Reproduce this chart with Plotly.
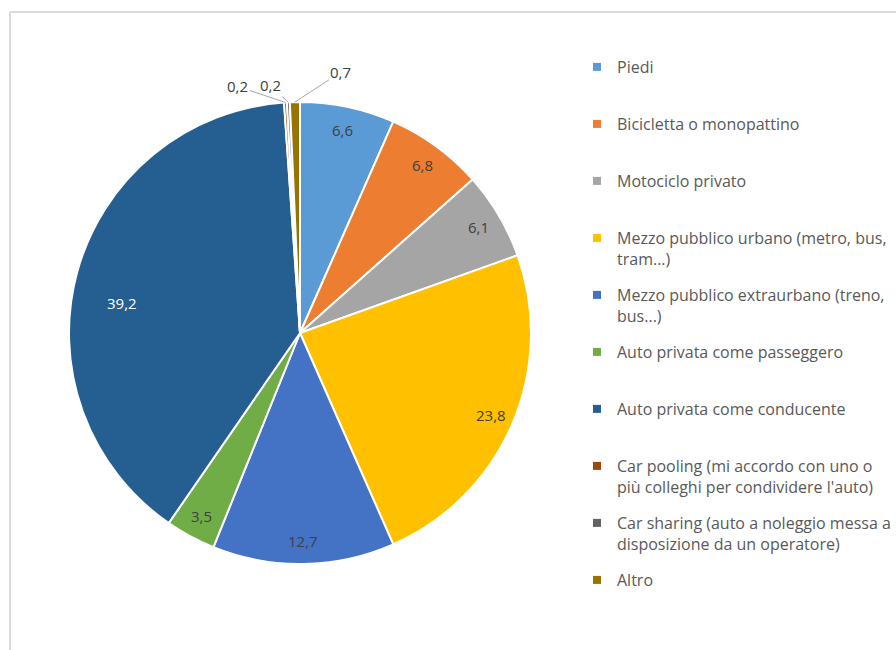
import math
import plotly.graph_objects as go

# Modal split (%)
categories = [
    "Piedi",
    "Bicicletta o monopattino",
    "Motociclo privato",
    "Mezzo pubblico urbano (metro, bus,<br>tram...)",
    "Mezzo pubblico extraurbano (treno,<br>bus...)",
    "Auto privata come passeggero",
    "Auto privata come conducente",
    "Car pooling (mi accordo con uno o<br>più colleghi per condividere l'auto)",
    "Car sharing (auto a noleggio messa a<br>disposizione da un operatore)",
    "Altro",
]
shares = [6.6, 6.8, 6.1, 23.8, 12.7, 3.5, 39.2, 0.2, 0.2, 0.7]
colors = ["#5B9BD5", "#ED7D31", "#A5A5A5", "#FFC000", "#4472C4",
          "#70AD47", "#255E91", "#9E480E", "#636363", "#997300"]

W, H = 896, 650
PIE_X = (69, 531)     # pie domain, px from left
PIE_Y = (102, 564)    # pie domain, px from top
LABEL_R = 0.9         # radial position of the data labels (fraction of radius)
label_override = {6: (0.78, -5.7)}   # slice index -> (radius fraction, angle shift deg)

# label offsets (px) for the tiny slices, labelled outside with a leader line
small_offsets = {7: (-48, -16), 8: (-18, -17), 9: (46, -30)}

text = [f"{v:.1f}".replace(".", ",") for v in shares]
text_colors = ["#FFFFFF" if c == "#255E91" else "#404040" for c in colors]

fig = go.Figure(go.Pie(
    labels=categories,
    values=shares,
    textinfo="none",
    sort=False,
    direction="clockwise",
    rotation=0,
    showlegend=False,
    marker=dict(colors=colors, line=dict(color="#FFFFFF", width=2)),
    domain=dict(x=[PIE_X[0] / W, PIE_X[1] / W],
                y=[1 - PIE_Y[1] / H, 1 - PIE_Y[0] / H]),
    hoverinfo="label+percent",
))

# legend entries, padded to two lines each so they sit evenly spaced
for i, (c, col) in enumerate(zip(categories, colors)):
    name = c if "<br>" in c else c + "<br>&nbsp;"
    fig.add_trace(go.Scatter(
        x=[None], y=[None], mode="markers", name=name,
        legendgroup=f"g{i}",
        marker=dict(symbol="square", size=8, color=col),
        hoverinfo="skip",
    ))

# data labels, anchored at each slice's mid-angle
cx = (PIE_X[0] + PIE_X[1]) / 2
cy = (PIE_Y[0] + PIE_Y[1]) / 2
r = (PIE_X[1] - PIE_X[0]) / 2
total = sum(shares)
annotations = []
cum = 0.0
for i, v in enumerate(shares):
    deg = 360 * (cum + v / 2) / total
    cum += v
    if i in small_offsets:
        theta = math.radians(deg)
        px = cx + r * math.sin(theta)
        py = cy - r * math.cos(theta)
        ax, ay = small_offsets[i]
        annotations.append(dict(
            x=px / W, y=1 - py / H, xref="paper", yref="paper",
            text=text[i], showarrow=True, arrowhead=0, arrowwidth=1,
            arrowcolor="#A6A6A6", ax=ax, ay=ay, standoff=0,
            font=dict(size=15, color="#404040", family="Open Sans"),
        ))
    else:
        frac, shift = label_override.get(i, (LABEL_R, 0))
        theta = math.radians(deg + shift)
        px = cx + r * frac * math.sin(theta)
        py = cy - r * frac * math.cos(theta)
        annotations.append(dict(
            x=px / W, y=1 - py / H, xref="paper", yref="paper",
            xanchor="center", yanchor="middle",
            text=text[i], showarrow=False,
            font=dict(size=15, color=text_colors[i], family="Open Sans"),
        ))

fig.update_layout(
    width=W, height=H,
    margin=dict(l=0, r=0, t=0, b=0),
    paper_bgcolor="white",
    plot_bgcolor="white",
    font=dict(family="Open Sans", color="#595959", size=16),
    xaxis=dict(visible=False),
    yaxis=dict(visible=False),
    legend=dict(
        x=577 / W, y=1 - 50 / H, xanchor="left", yanchor="top",
        valign="top", font=dict(size=16, color="#595959", family="Open Sans"),
        traceorder="grouped", tracegroupgap=12.4, itemclick=False,
    ),
    annotations=annotations,
    shapes=[
        dict(type="line", xref="paper", yref="paper",
             x0=10 / W, x1=10 / W, y0=0, y1=1 - 12 / H,
             line=dict(color="#D9D9D9", width=2)),
        dict(type="line", xref="paper", yref="paper",
             x0=10 / W, x1=1, y0=1 - 12 / H, y1=1 - 12 / H,
             line=dict(color="#D9D9D9", width=2)),
    ],
)

fig.write_html("out.html", config={"displayModeBar": False},
               post_script="document.body.style.margin='0';")
